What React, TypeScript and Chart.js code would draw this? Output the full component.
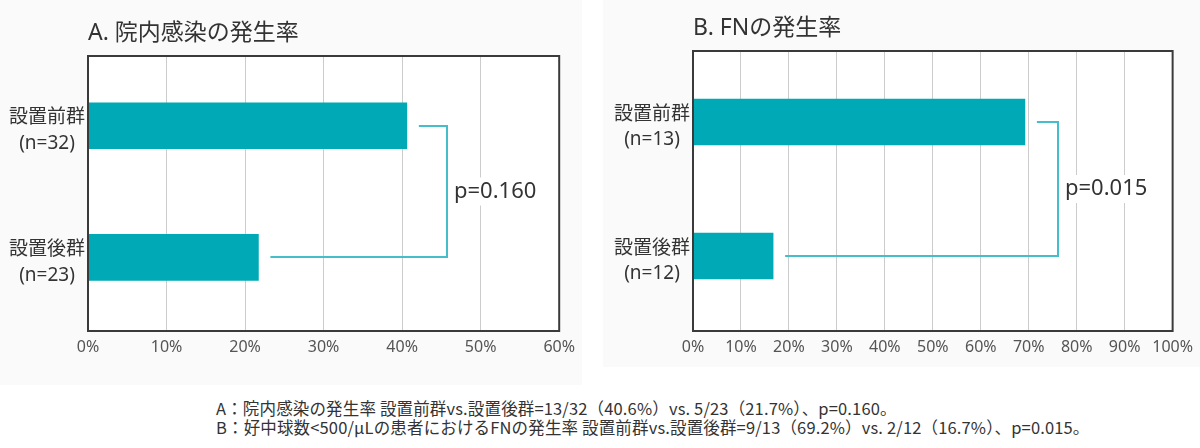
import React, { useEffect, useRef } from "react";
import { Chart, registerables } from "chart.js";

Chart.register(...registerables);

// ---- Data ----
const titleA = "A. 院内感染の発生率";
const groupLabelsA = [["設置前群", "(n=32)"], ["設置後群", "(n=23)"]];
const valuesA = [40.6, 21.7];
const xMaxA = 60;
const pTextA = "p=0.160";
const bracketA = 45.7;

const titleB = "B. FNの発生率";
const groupLabelsB = [["設置前群", "(n=13)"], ["設置後群", "(n=12)"]];
const valuesB = [69.2, 16.7];
const xMaxB = 100;
const pTextB = "p=0.015";
const bracketB = 76.2;

const footnotes = [
  "A：院内感染の発生率 設置前群vs.設置後群=13/32（40.6%）vs. 5/23（21.7%）、p=0.160。",
  "B：好中球数<500/μLの患者におけるFNの発生率 設置前群vs.設置後群=9/13（69.2%）vs. 2/12（16.7%）、p=0.015。",
];

const FAMILY = '"Noto Sans", "Noto Sans CJK JP", sans-serif';
const BAR = "#00a9b6";
const LINE = "#46bdca";
const TEXT = "#333333";

type PanelCfg = {
  title: string;
  labels: string[][];
  values: number[];
  xMax: number;
  pText: string;
  bracketX: number;
  padTop: number;
  padRight: number;
  yWidth: number;
  width: number;
  height: number;
};

function makeChart(canvas: HTMLCanvasElement, c: PanelCfg) {
  const annot = {
    id: "annot",
    beforeDraw(chart: any) {
      const { ctx, chartArea: a } = chart;
      ctx.save();
      ctx.fillStyle = "#ffffff";
      ctx.fillRect(a.left, a.top, a.right - a.left, a.bottom - a.top);
      ctx.restore();
    },
    afterDatasetsDraw(chart: any) {
      const { ctx, chartArea: a } = chart;
      const x = chart.scales.x;
      const y = chart.scales.y;
      ctx.save();
      // frame
      ctx.strokeStyle = "#3a3a3a";
      ctx.lineWidth = 2;
      ctx.strokeRect(a.left, a.top, a.right - a.left, a.bottom - a.top);
      // bracket
      const bx = Math.round(x.getPixelForValue(c.bracketX));
      const y0 = Math.round(y.getPixelForValue(0));
      const y1 = Math.round(y.getPixelForValue(1));
      const s0 = x.getPixelForValue(c.values[0]) + 12;
      const s1 = x.getPixelForValue(c.values[1]) + 12;
      ctx.strokeStyle = LINE;
      ctx.lineWidth = 2;
      ctx.beginPath();
      ctx.moveTo(s0, y0);
      ctx.lineTo(bx, y0);
      ctx.lineTo(bx, y1);
      ctx.lineTo(s1, y1);
      ctx.stroke();
      // p value
      ctx.font = `22px ${FAMILY}`;
      const w = ctx.measureText(c.pText).width;
      const ty = (y0 + y1) / 2;
      const tx = bx + 7;
      ctx.fillStyle = "#ffffff";
      ctx.fillRect(tx - 1, ty - 14, w + 3, 28);
      ctx.fillStyle = TEXT;
      ctx.textBaseline = "middle";
      ctx.textAlign = "left";
      ctx.fillText(c.pText, tx, ty);
      // title
      ctx.font = `23px ${FAMILY}`;
      ctx.fillText(c.title, a.left, a.top - 23);
      ctx.restore();
    },
  };

  return new Chart(canvas, {
    type: "bar",
    data: {
      datasets: [
        {
          data: c.values.map((v, i) => ({ x: v, y: i })),
          backgroundColor: BAR,
          borderWidth: 0,
          barThickness: 46,
        },
      ],
    },
    options: {
      indexAxis: "y",
      animation: false,
      responsive: false,
      maintainAspectRatio: false,
      layout: { padding: { top: c.padTop, right: c.padRight, left: 0, bottom: 0 } },
      plugins: {
        legend: { display: false },
        tooltip: { enabled: false },
        title: { display: false },
      },
      scales: {
        x: {
          type: "linear",
          position: "bottom",
          min: 0,
          max: c.xMax,
          ticks: {
            stepSize: 10,
            autoSkip: false,
            maxRotation: 0,
            padding: 7,
            color: "#555555",
            font: { size: 16, family: FAMILY },
            callback: (v: any) => `${v}%`,
          },
          grid: { color: "#cccccc", lineWidth: 1, drawTicks: false },
          border: { display: false },
          afterFit: (s: any) => {
            s.height = 54;
          },
        },
        y: {
          type: "linear",
          reverse: true,
          offset: false,
          min: -0.53,
          max: 1.56,
          afterBuildTicks: (s: any) => {
            s.ticks = [{ value: 0 }, { value: 1 }];
          },
          ticks: {
            autoSkip: false,
            crossAlign: "center",
            padding: 3,
            labelOffset: 5,
            color: TEXT,
            font: { size: 19, lineHeight: 1.35, family: FAMILY },
            callback: (v: any) => c.labels[v as number] ?? "",
          },
          grid: { display: false, drawTicks: false, offset: false },
          border: { display: false },
          afterFit: (s: any) => {
            s.width = c.yWidth;
          },
        },
      },
    } as any,
    plugins: [annot],
  });
}

function Panel({ cfg, left, bgHeight }: { cfg: PanelCfg; left: number; bgHeight: number }) {
  const ref = useRef<HTMLCanvasElement | null>(null);
  useEffect(() => {
    if (!ref.current) return;
    const ch = makeChart(ref.current, cfg);
    return () => ch.destroy();
  }, [cfg]);
  return (
    <>
      <div
        style={{
          position: "absolute",
          left,
          top: 0,
          width: cfg.width,
          height: bgHeight,
          background: "#fafafa",
        }}
      />
      <canvas
        ref={ref}
        width={cfg.width}
        height={cfg.height}
        style={{ position: "absolute", left, top: 0, width: cfg.width, height: cfg.height }}
      />
    </>
  );
}

const cfgA: PanelCfg = {
  title: titleA,
  labels: groupLabelsA,
  values: valuesA,
  xMax: xMaxA,
  pText: pTextA,
  bracketX: bracketA,
  padTop: 56,
  padRight: 19,
  yWidth: 88,
  width: 582,
  height: 385,
};

const cfgB: PanelCfg = {
  title: titleB,
  labels: groupLabelsB,
  values: valuesB,
  xMax: xMaxB,
  pText: pTextB,
  bracketX: bracketB,
  padTop: 51,
  padRight: 22,
  yWidth: 90,
  width: 597,
  height: 385,
};

export default function App() {
  return (
    <div
      style={{
        position: "fixed",
        left: 0,
        top: 0,
        width: 1200,
        height: 448,
        background: "#ffffff",
        overflow: "hidden",
      }}
    >
      <Panel cfg={cfgA} left={0} bgHeight={385} />
      <Panel cfg={cfgB} left={603} bgHeight={367} />
      <div
        style={{
          position: "absolute",
          left: 216,
          top: 399,
          fontFamily: '"Noto Sans CJK JP", sans-serif',
          fontSize: 16.5,
          letterSpacing: "0.15px",
          lineHeight: "19px",
          color: TEXT,
          whiteSpace: "nowrap",
        }}
      >
        {footnotes.map((t, i) => (
          <div key={i}>{t}</div>
        ))}
      </div>
    </div>
  );
}
